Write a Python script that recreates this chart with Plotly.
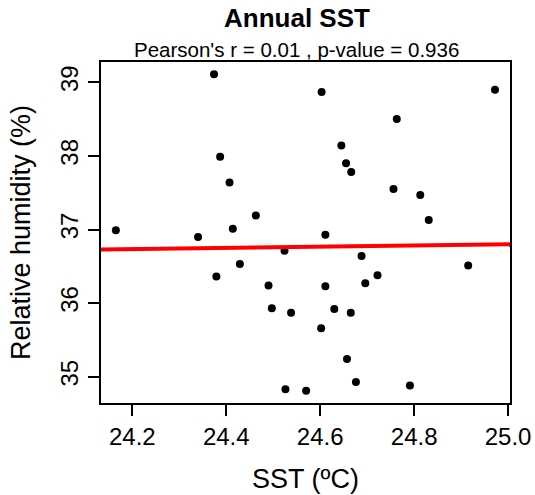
import plotly.graph_objects as go

# SST (ºC) vs relative humidity (%)
sst = [24.374, 24.387, 24.407, 24.463, 24.165, 24.340, 24.414,
       24.603, 24.972, 24.763, 24.645, 24.655, 24.666, 24.756, 24.813, 24.831, 24.611,
       24.524, 24.429, 24.379, 24.490, 24.497, 24.538, 24.526, 24.570,
       24.688, 24.915, 24.722, 24.611, 24.696, 24.630, 24.665, 24.602, 24.657, 24.676, 24.791]
rh = [39.11, 37.99, 37.64, 37.19, 36.99, 36.90, 37.01,
      38.87, 38.90, 38.50, 38.14, 37.90, 37.78, 37.55, 37.47, 37.13, 36.93,
      36.71, 36.53, 36.36, 36.24, 35.93, 35.87, 34.83, 34.81,
      36.64, 36.51, 36.38, 36.23, 36.27, 35.92, 35.87, 35.66, 35.24, 34.93, 34.88]

# fitted regression line (ends read at the plot edges)
fit_x = [24.1334, 25.004]
fit_y = [36.73, 36.80]

x_ticks = [24.2, 24.4, 24.6, 24.8, 25.0]
y_ticks = [35, 36, 37, 38, 39]

title = "<b>Annual SST</b>"
subtitle = "Pearson's r = 0.01 , p-value = 0.936"

FONT = "Liberation Sans, Arial, sans-serif"

fig = go.Figure()
fig.add_trace(go.Scatter(x=sst, y=rh, mode="markers",
                         marker=dict(color="black", size=8),
                         showlegend=False, hoverinfo="x+y"))
fig.add_trace(go.Scatter(x=fit_x, y=fit_y, mode="lines",
                         line=dict(color="#ff0000", width=4),
                         showlegend=False, hoverinfo="skip"))

axis_common = dict(showgrid=False, zeroline=False, showline=True, mirror=True,
                   linecolor="black", linewidth=2, ticks="outside", ticklen=11,
                   tickwidth=2, tickcolor="black", automargin=False,
                   tickfont=dict(family=FONT, size=24, color="black"))

fig.update_layout(
    width=535, height=495,
    margin=dict(l=101, r=25, t=62, b=92),
    paper_bgcolor="white", plot_bgcolor="white",
    font=dict(family=FONT, color="black"),
    xaxis=dict(range=[24.1334, 25.004], tickvals=x_ticks,
               ticktext=["%.1f" % v for v in x_ticks],
               title=dict(text="SST (ºC)", font=dict(family=FONT, size=27), standoff=20),
               **axis_common),
    yaxis=dict(range=[34.643, 39.276], tickvals=y_ticks, tickangle=-90,
               title=dict(text="Relative humidity (%)", font=dict(family=FONT, size=27), standoff=18),
               **axis_common),
    annotations=[
        dict(text=title, x=0.479, y=1, xref="paper", yref="paper", yshift=44,
             showarrow=False, xanchor="center", yanchor="middle",
             font=dict(family=FONT, size=26, color="black")),
        dict(text=subtitle, x=0.479, y=1, xref="paper", yref="paper", yshift=13,
             showarrow=False, xanchor="center", yanchor="middle",
             font=dict(family=FONT, size=20.5, color="black")),
    ],
)

# drop the default 8px body margin so the figure fills the window exactly
fig.write_html("out.html", config={"displayModeBar": False},
               post_script="document.body.style.margin='0';document.body.style.overflow='hidden';")
